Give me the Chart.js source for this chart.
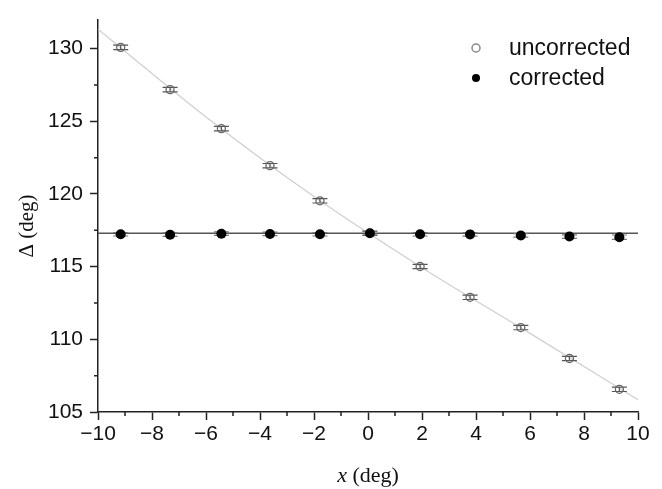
<!DOCTYPE html>
<html>
<head>
<meta charset="utf-8">
<script src="https://cdn.jsdelivr.net/npm/chart.js@4.4.1/dist/chart.umd.min.js"></script>
<style>
  html, body { margin: 0; padding: 0; background: #fff; }
</style>
</head>
<body>
<canvas id="myChart" width="662" height="489"></canvas>
<script>
// sample positions along x (deg)
const xPos = [-9.16, -7.33, -5.43, -3.63, -1.78, 0.07, 1.93, 3.78, 5.66, 7.46, 9.31];
// Delta before and after correction (deg)
const uncorrected = [130.09, 127.18, 124.50, 121.95, 119.53, 117.30, 115.01, 112.89, 110.81, 108.68, 106.56];
const corrected = [117.23, 117.20, 117.27, 117.25, 117.23, 117.30, 117.23, 117.22, 117.15, 117.07, 117.03];
// one-sigma errors
const uncorrectedErr = [0.15, 0.15, 0.15, 0.15, 0.15, 0.15, 0.15, 0.15, 0.15, 0.15, 0.15];
const correctedErr = [0.12, 0.12, 0.12, 0.12, 0.12, 0.12, 0.12, 0.12, 0.12, 0.12, 0.15];
// fitted curve through the uncorrected values
const fitX = [-10, -6, -2, 2, 6, 10];
const fitY = [131.34, 125.30, 119.82, 114.93, 110.41, 105.85];
// mean of the corrected values
const meanX = [-10, 10];
const meanY = [117.30, 117.30];

const xTicks = [-10, -8, -6, -4, -2, 0, 2, 4, 6, 8, 10];
const yTicks = [105, 110, 115, 120, 125, 130];
const xMinor = [-9, -7, -5, -3, -1, 1, 3, 5, 7, 9];
const yMinor = [107.5, 112.5, 117.5, 122.5, 127.5];

const legendItems = ['uncorrected', 'corrected'];

const pts = (xs, ys) => xs.map((x, i) => ({ x: x, y: ys[i] }));

const axisColor = '#222';
const tickFont = { family: 'Liberation Sans', size: 21 };

// error bars with wide caps, drawn just under each marker dataset
const errorBars = {
  id: 'errorBars',
  beforeDatasetDraw(chart, args) {
    const ds = chart.data.datasets[args.index];
    if (!ds.errors) return;
    const xs = chart.scales.x, ys = chart.scales.y;
    const ctx = chart.ctx;
    ctx.save();
    ctx.strokeStyle = ds.errorColor;
    ctx.lineWidth = 1.2;
    ds.data.forEach((p, i) => {
      const px = xs.getPixelForValue(p.x);
      const top = ys.getPixelForValue(p.y + ds.errors[i]);
      const bot = ys.getPixelForValue(p.y - ds.errors[i]);
      ctx.beginPath();
      ctx.moveTo(px, top); ctx.lineTo(px, bot);
      ctx.moveTo(px - 7.5, top); ctx.lineTo(px + 7.5, top);
      ctx.moveTo(px - 7.5, bot); ctx.lineTo(px + 7.5, bot);
      ctx.stroke();
    });
    ctx.restore();
  }
};

// minor ticks, axis titles and legend
const extras = {
  id: 'extras',
  afterDraw(chart) {
    const ctx = chart.ctx;
    const xs = chart.scales.x, ys = chart.scales.y;
    const area = chart.chartArea;
    ctx.save();
    ctx.strokeStyle = axisColor;
    ctx.lineWidth = 1.5;
    ctx.beginPath();
    yMinor.forEach(v => {
      const py = ys.getPixelForValue(v);
      ctx.moveTo(area.left - 4, py); ctx.lineTo(area.left, py);
    });
    xMinor.forEach(v => {
      const px = xs.getPixelForValue(v);
      ctx.moveTo(px, area.bottom); ctx.lineTo(px, area.bottom + 4);
    });
    ctx.stroke();

    // x title: italic x, upright (deg)
    ctx.fillStyle = '#111';
    ctx.textBaseline = 'middle';
    ctx.textAlign = 'left';
    const cx = (area.left + area.right) / 2;
    ctx.font = 'italic 22px "Liberation Serif"';
    const w1 = ctx.measureText('x').width;
    ctx.font = '22px "Liberation Serif"';
    const w2 = ctx.measureText(' (deg)').width;
    let sx = cx - (w1 + w2) / 2;
    ctx.font = 'italic 22px "Liberation Serif"';
    ctx.fillText('x', sx, 476);
    ctx.font = '22px "Liberation Serif"';
    ctx.fillText(' (deg)', sx + w1, 476);

    // y title
    ctx.save();
    ctx.translate(27, 226);
    ctx.rotate(-Math.PI / 2);
    ctx.textAlign = 'center';
    ctx.font = '21px "Liberation Serif"';
    ctx.fillText('\u0394 (deg)', 0, 0);
    ctx.restore();

    // legend
    ctx.font = '23px "Liberation Sans"';
    ctx.textAlign = 'left';
    legendItems.forEach((label, i) => {
      const ly = 48 + i * 30;
      ctx.beginPath();
      ctx.arc(476, ly, 4, 0, Math.PI * 2);
      if (i === 0) {
        ctx.strokeStyle = '#888';
        ctx.lineWidth = 1.5;
        ctx.stroke();
      } else {
        ctx.fillStyle = '#000';
        ctx.fill();
      }
      ctx.fillStyle = '#111';
      ctx.fillText(label, 509, ly + 1);
    });
    ctx.restore();
  }
};

const ctx = document.getElementById('myChart').getContext('2d');
const myChart = new Chart(ctx, {
  type: 'scatter',
  data: {
    datasets: [
      {
        label: 'uncorrected',
        data: pts(xPos, uncorrected),
        errors: uncorrectedErr,
        errorColor: '#555',
        pointStyle: 'circle',
        pointRadius: 4,
        pointBorderWidth: 1.3,
        pointBorderColor: '#666',
        pointBackgroundColor: 'rgba(255,255,255,0)',
        showLine: false,
        order: 2
      },
      {
        label: 'corrected',
        data: pts(xPos, corrected),
        errors: correctedErr,
        errorColor: '#777',
        pointRadius: 5,
        pointBorderWidth: 0,
        pointBackgroundColor: '#000',
        showLine: false,
        order: 1
      },
      {
        label: 'fit',
        data: pts(fitX, fitY),
        showLine: true,
        borderColor: '#cfcfcf',
        borderWidth: 1.2,
        pointRadius: 0,
        cubicInterpolationMode: 'monotone',
        order: 4
      },
      {
        label: 'mean',
        data: pts(meanX, meanY),
        showLine: true,
        borderColor: '#555',
        borderWidth: 1.4,
        pointRadius: 0,
        order: 3
      }
    ]
  },
  options: {
    responsive: false,
    devicePixelRatio: 1,
    animation: false,
    layout: { padding: { top: 9, right: 24, left: 0, bottom: 0 } },
    plugins: {
      legend: { display: false },
      tooltip: { enabled: false }
    },
    scales: {
      x: {
        type: 'linear',
        min: -10,
        max: 10,
        afterBuildTicks: (scale) => { scale.ticks = xTicks.map(v => ({ value: v })); },
        afterFit: (scale) => { scale.height = 77; },
        grid: { drawOnChartArea: false, tickLength: 8, tickColor: axisColor, tickWidth: 1.5 },
        border: { color: axisColor, width: 1.5 },
        ticks: {
          font: tickFont,
          color: '#111',
          padding: 2,
          maxRotation: 0,
          callback: (v) => String(v).replace('-', '\u2212')
        }
      },
      y: {
        type: 'linear',
        min: 105,
        max: 132,
        afterBuildTicks: (scale) => { scale.ticks = yTicks.map(v => ({ value: v })); },
        afterFit: (scale) => { scale.width = 98; },
        grid: { drawOnChartArea: false, tickLength: 8, tickColor: axisColor, tickWidth: 1.5 },
        border: { color: axisColor, width: 1.5 },
        ticks: {
          font: tickFont,
          color: '#111',
          padding: 7
        }
      }
    }
  },
  plugins: [errorBars, extras]
});
</script>
</body>
</html>
